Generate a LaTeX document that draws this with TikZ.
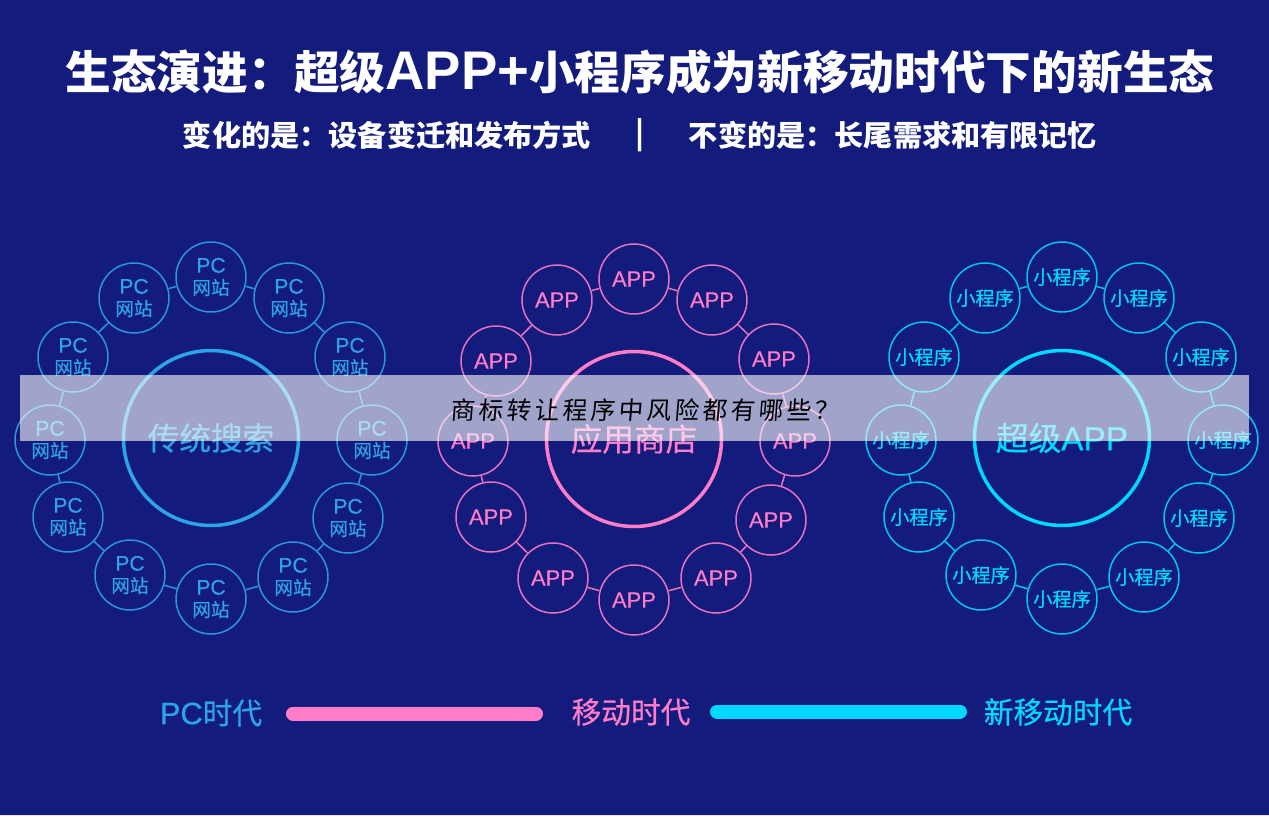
\documentclass[tikz,border=0pt]{standalone}
\usepackage{fontspec}
\setmainfont{Liberation Sans}
\newfontfamily\cjk{Noto Sans CJK SC}
\newfontfamily\cjkmed[FakeBold=0.5]{Noto Sans CJK SC}
\newfontfamily\latinmed[FakeBold=0.4]{Liberation Sans}
\newfontfamily\latinbold[UprightFont={* Bold}]{Liberation Sans}
\newfontfamily\handfont[FakeSlant=0.08,LetterSpace=14]{Noto Sans CJK SC}
\usepackage{tikz}
\definecolor{navybg}{HTML}{131B7C}
\definecolor{pcblue}{HTML}{2EA4E8}
\definecolor{apppink}{HTML}{FF7CC8}
\definecolor{minicyan}{HTML}{00D8FF}
\tikzset{
  small circle/.style={circle, draw, line width=0.85pt, minimum size=1.4cm, inner sep=0pt, align=center, text=#1, draw=#1!90!navybg},
  big circle/.style={circle, draw=#1, line width=2pt, minimum size=3.5cm, inner sep=0pt, text=#1},
  ring link/.style={draw=#1!90!navybg, line width=0.85pt},
  era bar/.style={draw=#1, line width=0.28cm, line cap=round},
  era label/.style={text=#1, font=\cjkmed\fontsize{16.9}{20}\selectfont},
  pc text/.style={font=\latinmed\fontsize{12}{13}\selectfont},
}
\newcommand{\wz}{{\cjkmed\fontsize{10.6}{12}\selectfont 网站}}
\newcommand{\xcx}{{\cjkmed\fontsize{10.9}{12}\selectfont 小程序}}
\newcommand{\appt}{{\latinmed\fontsize{12.5}{14}\selectfont APP}}

\begin{document}
\begin{tikzpicture}[x=0.02cm, y=-0.02cm]
\useasboundingbox (0,0) rectangle (1269,816);
% Background
\fill[navybg] (0,0) rectangle (1269,816);
\fill[white!88!navybg] (0,815) rectangle (1269,816);

% Title lines
\node[text=white, font=\cjk\bfseries\fontsize{26}{30}\selectfont] (title) at (640,72) {生态演进：超级{\latinbold\fontsize{31}{30}\selectfont APP+}小程序成为新移动时代下的新生态};
\node[text=white, font=\cjk\bfseries\fontsize{16.6}{20}\selectfont] (changing) at (387,135) {变化的是：设备变迁和发布方式};
\node[text=white, font=\cjk\bfseries\fontsize{16.6}{20}\selectfont] (divider) at (640,135) {|};
\node[text=white, font=\cjk\bfseries\fontsize{16.6}{20}\selectfont] (constant) at (893,135) {不变的是：长尾需求和有限记忆};

% PC ring
\node[big circle=pcblue, font=\cjkmed\fontsize{18}{20}\selectfont] (search) at (211,438) {传统搜索};
\node[small circle=pcblue, pc text] (pc1) at (211,277) {PC\\[-0.5pt]\wz};
\node[small circle=pcblue, pc text] (pc2) at (289,298) {PC\\[-0.5pt]\wz};
\node[small circle=pcblue, pc text] (pc3) at (350,357) {PC\\[-0.5pt]\wz};
\node[small circle=pcblue, pc text] (pc4) at (372,440) {PC\\[-0.5pt]\wz};
\node[small circle=pcblue, pc text] (pc5) at (348,518) {PC\\[-0.5pt]\wz};
\node[small circle=pcblue, pc text] (pc6) at (293,577) {PC\\[-0.5pt]\wz};
\node[small circle=pcblue, pc text] (pc7) at (211,599) {PC\\[-0.5pt]\wz};
\node[small circle=pcblue, pc text] (pc8) at (130,575) {PC\\[-0.5pt]\wz};
\node[small circle=pcblue, pc text] (pc9) at (68,517) {PC\\[-0.5pt]\wz};
\node[small circle=pcblue, pc text] (pc10) at (50,440) {PC\\[-0.5pt]\wz};
\node[small circle=pcblue, pc text] (pc11) at (73,357) {PC\\[-0.5pt]\wz};
\node[small circle=pcblue, pc text] (pc12) at (134,298) {PC\\[-0.5pt]\wz};
\draw[ring link=pcblue] (pc1) -- (pc2) (pc2) -- (pc3) (pc3) -- (pc4) (pc4) -- (pc5) (pc5) -- (pc6) (pc6) -- (pc7) (pc7) -- (pc8) (pc8) -- (pc9) (pc9) -- (pc10) (pc10) -- (pc11) (pc11) -- (pc12) (pc12) -- (pc1);

% APP ring
\node[big circle=apppink, font=\cjkmed\fontsize{18}{20}\selectfont] (store) at (634,439) {应用商店};
\node[small circle=apppink] (app1) at (634,279) {\appt};
\node[small circle=apppink] (app2) at (712,300) {\appt};
\node[small circle=apppink] (app3) at (774,359) {\appt};
\node[small circle=apppink] (app4) at (795,441) {\appt};
\node[small circle=apppink] (app5) at (771,520) {\appt};
\node[small circle=apppink] (app6) at (716,578) {\appt};
\node[small circle=apppink] (app7) at (634,600) {\appt};
\node[small circle=apppink] (app8) at (553,578) {\appt};
\node[small circle=apppink] (app9) at (491,517) {\appt};
\node[small circle=apppink] (app10) at (473,441) {\appt};
\node[small circle=apppink] (app11) at (496,361) {\appt};
\node[small circle=apppink] (app12) at (557,300) {\appt};
\draw[ring link=apppink] (app1) -- (app2) (app2) -- (app3) (app3) -- (app4) (app4) -- (app5) (app5) -- (app6) (app6) -- (app7) (app7) -- (app8) (app8) -- (app9) (app9) -- (app10) (app10) -- (app11) (app11) -- (app12) (app12) -- (app1);

% Mini program ring
\node[big circle=minicyan, font=\latinmed\fontsize{19}{20}\selectfont] (superapp) at (1062,438) {{\cjkmed\fontsize{18.6}{20}\selectfont 超级}APP};
\node[small circle=minicyan] (mini1) at (1062,277) {\xcx};
\node[small circle=minicyan] (mini2) at (1139,298) {\xcx};
\node[small circle=minicyan] (mini3) at (1201,357) {\xcx};
\node[small circle=minicyan] (mini4) at (1223,440) {\xcx};
\node[small circle=minicyan] (mini5) at (1199,518) {\xcx};
\node[small circle=minicyan] (mini6) at (1144,577) {\xcx};
\node[small circle=minicyan] (mini7) at (1062,599) {\xcx};
\node[small circle=minicyan] (mini8) at (981,575) {\xcx};
\node[small circle=minicyan] (mini9) at (919,517) {\xcx};
\node[small circle=minicyan] (mini10) at (901,440) {\xcx};
\node[small circle=minicyan] (mini11) at (924,357) {\xcx};
\node[small circle=minicyan] (mini12) at (985,298) {\xcx};
\draw[ring link=minicyan] (mini1) -- (mini2) (mini2) -- (mini3) (mini3) -- (mini4) (mini4) -- (mini5) (mini5) -- (mini6) (mini6) -- (mini7) (mini7) -- (mini8) (mini8) -- (mini9) (mini9) -- (mini10) (mini10) -- (mini11) (mini11) -- (mini12) (mini12) -- (mini1);

% Timeline
\node[era label=pcblue] (pcera) at (211,713) {{\latinmed\fontsize{17.6}{20}\selectfont PC}时代};
\node[era label=apppink] (mobileera) at (631,712) {移动时代};
\node[era label=minicyan] (newera) at (1058,712) {新移动时代};
\coordinate (pinkstart) at (293,713.5);
\coordinate (pinkend) at (536,713.5);
\coordinate (cyanstart) at (717,711.5);
\coordinate (cyanend) at (960,711.5);
\draw[era bar=apppink] (pinkstart) -- (pinkend);
\draw[era bar=minicyan] (cyanstart) -- (cyanend);

% Watermark band
\fill[white, fill opacity=0.6] (20,375) rectangle (1249,441);
\node[text=black, font=\handfont\fontsize{14}{16}\selectfont] (mark) at (645,410) {商标转让程序中风险都有哪些？};
\end{tikzpicture}
\end{document}
